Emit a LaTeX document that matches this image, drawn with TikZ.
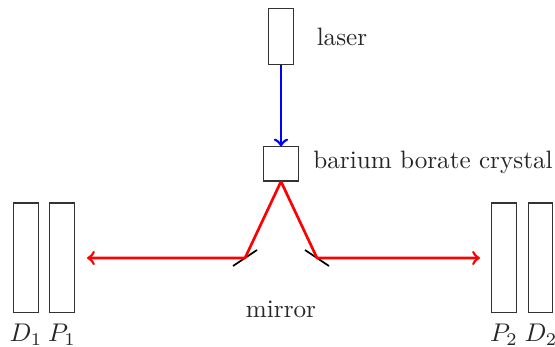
\documentclass[tikz,border=0pt]{standalone}
\begin{document}
\begin{tikzpicture}[x=0.391pt,y=-0.391pt,
  device/.style={draw,black!80,line width=0.4pt,rectangle,inner sep=0pt,minimum width=9.4pt,minimum height=43pt},
  label/.style={inner sep=0pt,text=black!85,font=\fontsize{9.83}{12}\selectfont},
  beam/.style={line width=1.05pt},
  mirrorline/.style={draw,black,line width=0.7pt}]
\useasboundingbox (0,0) rectangle (555,347);
\node[device] (D1) at (26,258) {};
\node[device] (P1) at (62,258) {};
\node[device] (P2) at (504,258) {};
\node[device] (D2) at (540.5,258) {};
\node[device,minimum height=21.7pt] (laser) at (281,36.5) {};
\node[device,minimum width=14pt,minimum height=13.3pt] (crystal) at (281,164) {};
\coordinate (ml) at (245,258);
\coordinate (mr) at (317,258);
\coordinate (ml1) at (233,266);
\coordinate (ml2) at (257,250);
\coordinate (mr1) at (305,250);
\coordinate (mr2) at (329,266);
\coordinate (el) at (87,258);
\coordinate (er) at (480,258);
\draw[mirrorline] (ml1) -- (ml2);
\draw[mirrorline] (mr1) -- (mr2);
\draw[beam,blue,->] (laser.south) -- (crystal.north);
\draw[beam,red,->,line join=round] (crystal.south) -- (ml) -- (el);
\draw[beam,red,->,line join=round] (crystal.south) -- (mr) -- (er);
\node[label] (tlaser) at (342,37) {laser};
\node[label] (tcrystal) at (433,162.5) {barium borate crystal};
\node[label] (tmirror) at (281,309) {mirror};
\node[label] (tD1) at (26,335) {$D_1$};
\node[label] (tP1) at (62,335) {$P_1$};
\node[label] (tP2) at (504,335) {$P_2$};
\node[label] (tD2) at (541,335) {$D_2$};
\end{tikzpicture}
\end{document}
